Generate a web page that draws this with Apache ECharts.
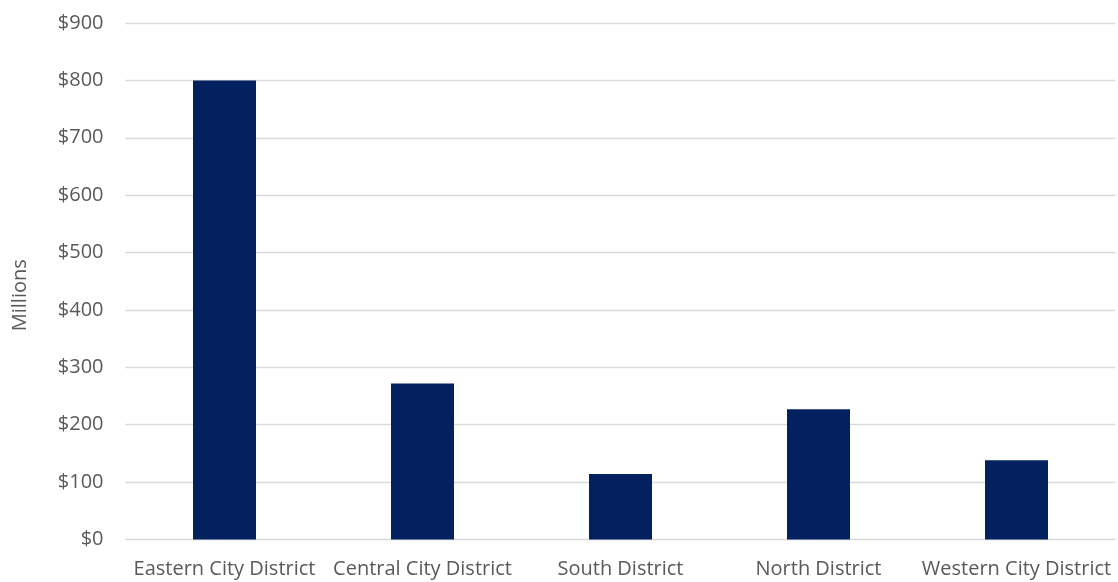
<!DOCTYPE html>
<html>
<head>
<meta charset="utf-8">
<script src="https://cdn.jsdelivr.net/npm/echarts@6/dist/echarts.min.js"></script>
<style>
  html, body { margin: 0; padding: 0; background: #fff; }
  #chart { width: 1118px; height: 582px; }
</style>
</head>
<body>
<div id="chart"></div>
<script>
const districts = ['Eastern City District', 'Central City District', 'South District', 'North District', 'Western City District']
const values = [800, 272, 114, 227, 138]

const chart = echarts.init(document.getElementById('chart'))
const font = 'Open Sans'

chart.setOption({
    animation: false,
    grid: { left: 125.5, right: 2.5, top: 23, bottom: 42.5, containLabel: false, outerBoundsMode: 'none' },
    xAxis: {
        type: 'category',
        data: districts,
        axisLine: { show: false },
        axisTick: { show: false },
        axisLabel: { color: '#595959', fontFamily: font, fontSize: 20, margin: 20, interval: 0 }
    },
    yAxis: {
        type: 'value',
        min: 0,
        max: 900,
        interval: 100,
        name: 'Millions',
        nameLocation: 'middle',
        nameGap: 95,
        nameTextStyle: { color: '#595959', fontFamily: font, fontSize: 20, padding: [0, 28, 0, 0] },
        axisLine: { show: false },
        axisTick: { show: false },
        splitLine: { lineStyle: { color: '#d9d9d9', width: 1.3 } },
        axisLabel: {
            color: '#595959', fontFamily: font, fontSize: 20, margin: 22,
            formatter: v => '$' + v
        }
    },
    series: [{
        type: 'bar',
        data: values,
        barWidth: 63,
        itemStyle: { color: '#03215f' }
    }]
})
</script>
</body>
</html>
